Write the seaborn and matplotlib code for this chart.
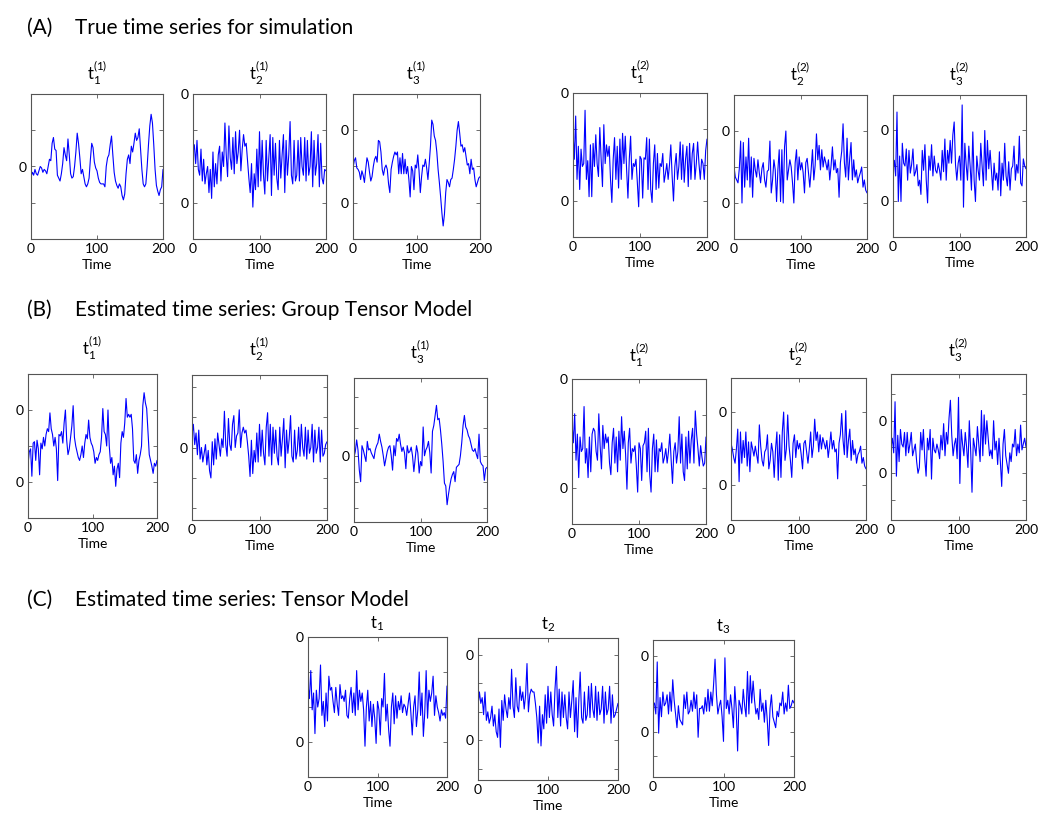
import numpy as np
import matplotlib
matplotlib.use('Agg')
import matplotlib.pyplot as plt
import seaborn as sns

# values, in percent of each panel's height (0 = bottom, 100 = top)
# (A) true time series
a1 = [43, 46, 44, 48, 45, 44, 47, 50, 49, 46, 48, 47, 45, 50, 55, 54, 66, 70, 62, 61,
      44, 42, 40, 45, 52, 63, 58, 54, 69, 58, 45, 42, 43, 50, 60, 73, 66, 56, 45, 48,
      43, 38, 36, 38, 42, 55, 66, 63, 53, 49, 47, 42, 39, 38, 38, 38, 36, 50, 56, 58,
      65, 71, 58, 46, 40, 37, 35, 38, 36, 30, 27, 31, 45, 55, 58, 52, 64, 60, 66, 73,
      68, 70, 76, 62, 48, 38, 36, 38, 50, 65, 78, 86, 80, 65, 48, 37, 33, 30, 34, 36, 48]
a2 = [60, 65, 52, 68, 48, 44, 62, 40, 55, 38, 45, 50, 32, 48, 28, 60, 36, 52, 38, 58,
      64, 40, 60, 50, 80, 58, 43, 78, 56, 48, 70, 45, 74, 52, 60, 75, 47, 62, 72, 64,
      66, 54, 42, 32, 52, 22, 45, 34, 62, 36, 74, 40, 68, 44, 31, 68, 40, 56, 72, 30,
      70, 44, 66, 42, 34, 68, 42, 58, 72, 32, 68, 44, 58, 81, 44, 38, 68, 40, 44, 68,
      40, 70, 50, 44, 70, 40, 68, 44, 50, 74, 36, 68, 44, 52, 72, 36, 66, 42, 38, 48, 47]
a3 = [49, 54, 56, 49, 48, 46, 41, 47, 44, 39, 48, 56, 53, 46, 40, 43, 50, 55, 57, 53,
      68, 67, 60, 48, 44, 49, 51, 48, 38, 32, 48, 53, 57, 60, 58, 60, 45, 56, 45, 59,
      45, 55, 45, 50, 41, 29, 50, 47, 34, 51, 49, 58, 47, 32, 43, 51, 50, 55, 49, 41,
      52, 64, 82, 79, 71, 68, 60, 48, 39, 29, 18, 9, 17, 32, 41, 39, 36, 41, 42, 48,
      55, 64, 75, 81, 73, 64, 65, 60, 63, 57, 51, 52, 45, 55, 48, 49, 41, 36, 39, 42, 43]
a4 = [73, 54, 84, 40, 63, 33, 61, 49, 51, 88, 40, 53, 28, 64, 28, 65, 49, 71, 51, 42,
      76, 54, 35, 78, 51, 64, 56, 63, 40, 24, 54, 69, 40, 63, 34, 68, 40, 72, 51, 70,
      47, 27, 54, 70, 40, 51, 49, 54, 38, 21, 56, 54, 27, 55, 54, 69, 33, 68, 33, 24,
      51, 64, 33, 58, 34, 51, 49, 58, 38, 44, 51, 40, 50, 64, 42, 25, 49, 58, 40, 49,
      66, 40, 64, 38, 54, 63, 35, 65, 40, 58, 65, 40, 51, 66, 51, 40, 54, 51, 40, 60, 68]
a5 = [50, 43, 41, 39, 49, 68, 25, 67, 36, 57, 41, 70, 36, 57, 29, 56, 48, 43, 55, 46,
      39, 49, 53, 41, 36, 47, 48, 68, 32, 41, 55, 48, 26, 48, 62, 26, 62, 25, 64, 75,
      41, 48, 55, 50, 39, 25, 53, 62, 41, 57, 48, 53, 46, 32, 53, 56, 46, 36, 48, 62,
      41, 51, 73, 55, 65, 48, 62, 50, 57, 53, 48, 55, 41, 51, 64, 48, 55, 46, 49, 29,
      53, 61, 80, 53, 43, 70, 41, 56, 67, 41, 55, 43, 48, 39, 43, 46, 50, 36, 41, 34, 32]
a6 = [47, 54, 43, 88, 25, 57, 25, 66, 52, 50, 62, 40, 61, 45, 51, 62, 43, 46, 51, 36,
      40, 30, 61, 47, 65, 40, 24, 57, 47, 65, 43, 57, 47, 45, 52, 47, 40, 61, 46, 69,
      40, 61, 52, 68, 52, 72, 81, 51, 40, 52, 57, 40, 93, 21, 66, 51, 40, 64, 50, 33,
      74, 40, 25, 57, 47, 40, 66, 50, 36, 75, 40, 68, 48, 61, 47, 33, 52, 40, 45, 33,
      60, 29, 52, 40, 66, 43, 36, 53, 33, 48, 50, 64, 40, 51, 45, 71, 38, 36, 55, 50, 48]

# (B) group tensor model estimates
b1 = [37, 46, 48, 29, 52, 53, 40, 54, 48, 30, 52, 48, 56, 50, 58, 62, 60, 73, 62, 58,
      50, 56, 48, 26, 58, 57, 60, 52, 66, 75, 54, 44, 48, 56, 64, 78, 56, 50, 46, 42,
      40, 44, 50, 42, 52, 58, 55, 68, 56, 52, 50, 46, 38, 42, 40, 44, 46, 56, 76, 60,
      58, 50, 75, 50, 38, 42, 30, 36, 22, 34, 38, 28, 52, 60, 56, 66, 83, 70, 72, 70,
      72, 62, 40, 38, 44, 31, 40, 44, 50, 78, 87, 80, 76, 60, 44, 40, 36, 31, 38, 36, 40]
b2 = [59, 66, 52, 60, 45, 62, 42, 50, 40, 46, 52, 38, 48, 34, 29, 54, 38, 56, 42, 60,
      52, 44, 56, 50, 75, 52, 44, 70, 52, 48, 66, 72, 50, 58, 60, 76, 50, 60, 64, 60,
      62, 54, 44, 30, 55, 32, 48, 40, 60, 40, 66, 44, 62, 46, 38, 64, 74, 44, 66, 38,
      64, 46, 62, 44, 38, 64, 44, 56, 70, 36, 62, 46, 56, 72, 44, 40, 62, 42, 48, 64,
      44, 66, 50, 44, 64, 42, 62, 46, 50, 66, 40, 62, 46, 50, 64, 40, 62, 44, 46, 52, 54]
b3 = [45, 49, 57, 50, 36, 28, 53, 50, 46, 42, 56, 50, 51, 48, 46, 44, 50, 53, 55, 61,
      56, 52, 46, 39, 44, 49, 52, 53, 46, 36, 53, 46, 58, 56, 61, 54, 49, 52, 48, 37,
      53, 48, 49, 52, 46, 35, 44, 53, 48, 34, 42, 39, 66, 46, 50, 52, 56, 48, 34, 63,
      67, 74, 81, 71, 72, 64, 54, 42, 27, 25, 12, 19, 25, 30, 33, 35, 28, 38, 39, 40,
      46, 55, 67, 74, 66, 64, 60, 58, 54, 50, 49, 51, 47, 44, 61, 42, 40, 39, 29, 37, 38]
b4 = [70, 56, 76, 44, 62, 32, 60, 50, 52, 81, 42, 52, 32, 60, 36, 62, 66, 64, 50, 44,
      76, 54, 38, 68, 52, 62, 56, 60, 42, 34, 56, 66, 42, 60, 36, 64, 44, 74, 52, 64,
      48, 24, 56, 66, 42, 52, 50, 54, 40, 22, 56, 52, 30, 54, 56, 64, 36, 66, 34, 22,
      52, 62, 36, 58, 36, 52, 50, 56, 42, 46, 52, 42, 50, 62, 44, 28, 50, 56, 42, 50,
      74, 42, 62, 36, 30, 60, 38, 64, 42, 58, 66, 42, 78, 62, 52, 40, 54, 46, 40, 42, 60]
b5 = [54, 50, 44, 40, 50, 64, 27, 62, 40, 56, 44, 62, 38, 55, 34, 55, 50, 45, 52, 46,
      40, 67, 52, 42, 38, 48, 50, 60, 36, 42, 54, 48, 30, 50, 62, 28, 60, 30, 62, 76,
      42, 50, 74, 52, 42, 30, 54, 60, 44, 56, 50, 54, 46, 36, 54, 56, 48, 40, 50, 62,
      44, 52, 71, 56, 62, 48, 60, 50, 58, 54, 50, 56, 44, 52, 62, 50, 56, 48, 50, 29,
      54, 60, 75, 56, 46, 77, 44, 56, 64, 42, 56, 46, 50, 40, 46, 48, 52, 40, 44, 38, 36]
b6 = [50, 56, 46, 81, 30, 58, 40, 62, 52, 50, 60, 44, 60, 46, 52, 60, 44, 48, 52, 40,
      32, 36, 60, 48, 62, 42, 30, 56, 48, 62, 28, 56, 48, 46, 52, 48, 42, 58, 48, 66,
      44, 60, 52, 70, 82, 58, 44, 52, 56, 42, 84, 25, 62, 52, 44, 60, 50, 36, 68, 48,
      19, 56, 50, 44, 64, 52, 40, 75, 44, 72, 52, 68, 56, 44, 48, 42, 68, 48, 54, 38,
      56, 40, 23, 52, 62, 44, 38, 32, 46, 40, 52, 50, 62, 44, 52, 46, 65, 48, 52, 56, 50]

# (C) tensor model estimates
c1 = [66, 56, 76, 48, 60, 31, 62, 50, 56, 80, 44, 54, 36, 60, 40, 72, 62, 64, 54, 46,
      64, 52, 44, 66, 56, 58, 54, 62, 44, 42, 56, 64, 46, 60, 44, 76, 48, 62, 54, 60,
      48, 22, 50, 62, 40, 54, 36, 52, 42, 24, 54, 48, 30, 56, 50, 74, 40, 52, 34, 22,
      50, 60, 38, 58, 42, 54, 48, 58, 46, 52, 50, 44, 52, 60, 46, 30, 50, 58, 36, 48,
      75, 44, 60, 29, 46, 76, 42, 62, 54, 60, 72, 44, 58, 50, 46, 40, 48, 44, 46, 42, 65]
c2 = [52, 62, 54, 58, 46, 62, 42, 48, 40, 44, 52, 38, 46, 34, 30, 50, 23, 56, 42, 60,
      50, 44, 58, 50, 78, 52, 44, 72, 52, 48, 66, 56, 62, 50, 60, 82, 48, 60, 64, 62,
      62, 54, 44, 26, 52, 24, 46, 36, 60, 40, 66, 44, 62, 46, 38, 64, 80, 44, 64, 38,
      62, 44, 60, 44, 36, 62, 44, 56, 70, 34, 58, 30, 56, 76, 44, 40, 62, 42, 46, 66,
      44, 68, 50, 44, 66, 42, 62, 46, 50, 66, 40, 62, 46, 50, 66, 40, 60, 44, 46, 50, 54]
c3 = [52, 54, 46, 84, 32, 58, 44, 62, 52, 54, 60, 46, 62, 48, 71, 56, 46, 36, 52, 42,
      40, 38, 60, 50, 62, 46, 48, 56, 48, 62, 50, 60, 29, 50, 50, 52, 46, 58, 48, 64,
      48, 62, 52, 68, 86, 60, 46, 52, 56, 44, 26, 87, 50, 56, 46, 60, 50, 36, 66, 50,
      19, 56, 52, 46, 64, 52, 44, 77, 46, 74, 54, 70, 56, 46, 50, 42, 64, 48, 54, 40,
      56, 42, 23, 50, 60, 44, 40, 36, 48, 44, 54, 52, 62, 46, 54, 48, 67, 50, 52, 56, 54]

titles_1 = [r'$\mathregular{t_1^{(1)}}$', r'$\mathregular{t_2^{(1)}}$', r'$\mathregular{t_3^{(1)}}$']
titles_2 = [r'$\mathregular{t_1^{(2)}}$', r'$\mathregular{t_2^{(2)}}$', r'$\mathregular{t_3^{(2)}}$']
titles_c = [r'$\mathregular{t_1}$', r'$\mathregular{t_2}$', r'$\mathregular{t_3}$']
section_labels = ['(A)', '(B)', '(C)']
section_titles = ['True time series for simulation',
                  'Estimated time series: Group Tensor Model',
                  'Estimated time series: Tensor Model']

sns.set_style('ticks')
plt.rcParams['font.family'] = ['Lato', 'DejaVu Sans']
plt.rcParams['mathtext.fontset'] = 'custom'
plt.rcParams['mathtext.rm'] = 'Lato'
plt.rcParams['text.color'] = 'black'
plt.rcParams['axes.labelcolor'] = 'black'
plt.rcParams['axes.edgecolor'] = '#555555'
plt.rcParams['axes.linewidth'] = 0.8

W, H = 1050, 822
fig = plt.figure(figsize=(W / 100, H / 100), dpi=100)


def box(l, r, top, bottom):
    return [l / W, 1 - bottom / H, (r - l) / W, (bottom - top) / H]


# series, title, pixel box (left, right, top, bottom), y ticks, labelled ticks, title pad
panels = [
    (a1, titles_1[0], (31, 163, 94, 239), [25, 50, 75], [50], 10),
    (a2, titles_1[1], (193, 326, 94, 239), [25, 50, 75, 100], [25, 100], 10),
    (a3, titles_1[2], (353, 480, 94, 239), [25, 50, 75], [25, 75], 10),
    (a4, titles_2[0], (573, 707, 93, 237), [25, 50, 75, 100], [25, 100], 10),
    (a5, titles_2[1], (734, 867, 95, 239), [25, 50, 75], [25, 75], 10),
    (a6, titles_2[2], (893, 1026, 95, 237), [25, 50, 75], [25, 75], 10),
    (b1, titles_1[0], (28, 157, 374, 518), [25, 50, 75], [25, 75], 13),
    (b2, titles_1[1], (192, 327, 375, 520), [8, 29, 50, 71, 92], [50], 13),
    (b3, titles_1[2], (354, 487, 378, 522), [10, 28, 46, 65, 87], [46], 13),
    (b4, titles_2[0], (572, 706, 379, 524), [25, 50, 75, 100], [25, 100], 12),
    (b5, titles_2[1], (731, 866, 378, 520), [25, 50, 76], [25, 76], 12),
    (b6, titles_2[2], (891, 1026, 374, 520), [14, 32, 50, 68, 86], [32, 68], 12),
    (c1, titles_c[0], (308, 447, 637, 777), [25, 50, 75, 100], [25, 100], 6),
    (c2, titles_c[1], (478, 618, 638, 780), [8, 28, 48, 68, 88], [28, 88], 6),
    (c3, titles_c[2], (653, 794, 640, 777), [15, 33, 51, 69, 88], [33, 88], 6),
]

for vals, title, (l, r, t, b), yt, ylab, pad in panels:
    ax = fig.add_axes(box(l, r, t, b))
    time = np.linspace(0, 200, len(vals))
    sns.lineplot(x=time, y=vals, ax=ax, color='blue', linewidth=0.8)
    ax.set_xlim(0, 200)
    ax.set_ylim(0, 100)
    ax.set_xticks([0, 100, 200])
    ax.set_yticks(yt)
    ax.set_yticklabels(['0' if v in ylab else '' for v in yt])
    ax.tick_params(direction='in', top=True, right=True, length=3, width=0.6,
                   labelsize=10, pad=3, colors='#555555', labelcolor='black')
    ax.set_xlabel('Time', fontsize=10, labelpad=3)
    ax.set_ylabel('')
    ax.set_title(title, fontsize=12, pad=pad)

for lab, txt, y in zip(section_labels, section_titles, [28, 310, 600]):
    fig.text(27 / W, 1 - y / H, lab, fontsize=15, va='center', ha='left')
    fig.text(75 / W, 1 - y / H, txt, fontsize=15, va='center', ha='left')

fig.savefig('out.png', dpi=100)
